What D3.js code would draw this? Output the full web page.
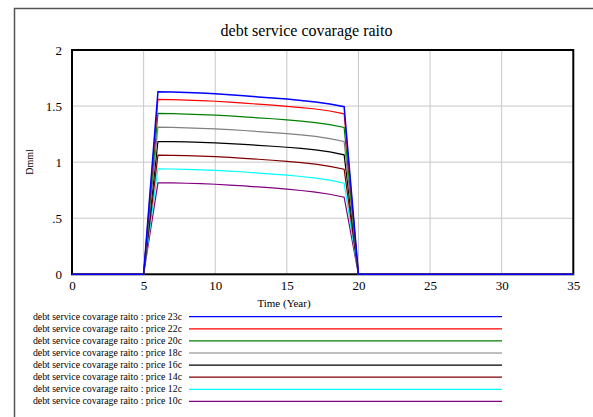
<!DOCTYPE html>
<html>
<head>
<meta charset="utf-8">
<script src="https://cdn.jsdelivr.net/npm/d3@7"></script>
<style>
  body { margin: 0; background: #fff; }
</style>
</head>
<body>
<div id="chart"></div>
<script>
const years = d3.range(0, 36)
const seriesNames = ['price 23c', 'price 22c', 'price 20c', 'price 18c', 'price 16c', 'price 14c', 'price 12c', 'price 10c']
const seriesColors = ['#0000ff', '#ff0000', '#008000', '#808080', '#000000', '#800000', '#00ffff', '#800080']
const xTicks = [0, 5, 10, 15, 20, 25, 30, 35]
const yTicks = [0, 0.5, 1, 1.5, 2]
const yTickLabels = ['0', '.5', '1', '1.5', '2']

// values for years 6..19, zero before and after
const p23 = [1.628, 1.625, 1.621, 1.616, 1.610, 1.602, 1.592, 1.582, 1.573, 1.562, 1.550, 1.536, 1.518, 1.494]
const p22 = [1.559, 1.557, 1.553, 1.548, 1.543, 1.535, 1.526, 1.517, 1.508, 1.498, 1.487, 1.474, 1.456, 1.431]
const p20 = [1.434, 1.432, 1.428, 1.424, 1.419, 1.412, 1.404, 1.395, 1.387, 1.377, 1.366, 1.353, 1.335, 1.309]
const p18 = [1.312, 1.310, 1.306, 1.302, 1.297, 1.290, 1.282, 1.273, 1.264, 1.254, 1.243, 1.229, 1.210, 1.184]
const p16 = [1.184, 1.183, 1.180, 1.176, 1.172, 1.166, 1.158, 1.150, 1.142, 1.133, 1.122, 1.109, 1.091, 1.065]
const p14 = [1.062, 1.061, 1.058, 1.054, 1.049, 1.042, 1.034, 1.026, 1.017, 1.007, 0.996, 0.982, 0.963, 0.937]
const p12 = [0.940, 0.939, 0.936, 0.932, 0.927, 0.920, 0.912, 0.903, 0.894, 0.884, 0.872, 0.858, 0.839, 0.812]
const p10 = [0.815, 0.815, 0.812, 0.808, 0.803, 0.796, 0.788, 0.779, 0.770, 0.759, 0.747, 0.733, 0.714, 0.687]
const activeValues = [p23, p22, p20, p18, p16, p14, p12, p10]

const serif = '"Liberation Serif", "Times New Roman", Times, serif'
const width = 593, height = 417

const svg = d3.select('#chart')
  .append('svg')
  .attr('width', width)
  .attr('height', height)
  .attr('font-family', serif)

// outer frame
svg.append('rect')
  .attr('x', 14.5).attr('y', 8.5)
  .attr('width', 600).attr('height', 420)
  .attr('fill', 'none')
  .attr('stroke', '#555')
  .attr('stroke-width', 1.5)

const x = d3.scaleLinear().domain([0, 35]).range([72, 573.3])
const y = d3.scaleLinear().domain([0, 2]).range([274.3, 50])

svg.append('text')
  .attr('x', 306.5)
  .attr('y', 36)
  .attr('text-anchor', 'middle')
  .attr('font-family', serif)
  .style('font-size', '16px')
  .text('debt service covarage raito')

// grid
const grid = svg.append('g')
grid.selectAll('.gx')
  .data(xTicks)
  .enter()
  .append('line')
  .attr('x1', d => x(d)).attr('x2', d => x(d))
  .attr('y1', y(2)).attr('y2', y(0))
  .attr('stroke', '#c8c8c8')
grid.selectAll('.gy')
  .data(yTicks)
  .enter()
  .append('line')
  .attr('x1', x(0)).attr('x2', x(35))
  .attr('y1', d => y(d)).attr('y2', d => y(d))
  .attr('stroke', '#c8c8c8')

// axes
const xAxis = d3.axisBottom(x).tickValues(xTicks).tickSize(0).tickPadding(6)
svg.append('g')
  .attr('transform', `translate(0,${y(0)})`)
  .call(xAxis)
  .attr('font-family', serif)
  .attr('font-size', 13)
  .call(g => g.select('.domain').remove())

const yAxis = d3.axisLeft(y).tickValues(yTicks).tickFormat((d, i) => yTickLabels[i]).tickSize(0).tickPadding(10)
svg.append('g')
  .attr('transform', `translate(${x(0)},0)`)
  .call(yAxis)
  .attr('font-family', serif)
  .attr('font-size', 13)
  .call(g => g.select('.domain').remove())

svg.append('text')
  .attr('transform', 'translate(33,162) rotate(-90)')
  .attr('text-anchor', 'middle')
  .attr('font-family', serif)
  .style('font-size', '10px')
  .text('Dmml')

svg.append('text')
  .attr('x', 284)
  .attr('y', 307)
  .attr('text-anchor', 'middle')
  .attr('font-family', serif)
  .style('font-size', '11px')
  .text('Time (Year)')

// lines
const seriesData = activeValues.map(vals => years.map(t => ({
  t: t,
  v: (t >= 6 && t <= 19) ? vals[t - 6] : 0
})))

const line = d3.line()
  .x(d => x(d.t))
  .y(d => y(d.v))

// plot frame
svg.append('rect')
  .attr('x', x(0)).attr('y', y(2))
  .attr('width', x(35) - x(0)).attr('height', y(0) - y(2))
  .attr('fill', 'none')
  .attr('stroke', '#000')
  .attr('stroke-width', 2)

const lineG = svg.append('g')
for (let i = seriesData.length - 1; i >= 0; i--) {
  lineG.append('path')
    .datum(seriesData[i])
    .attr('d', line)
    .attr('fill', 'none')
    .attr('stroke', seriesColors[i])
    .attr('stroke-width', i === 0 ? 1.5 : 1.2)
}

// legend
const legend = svg.append('g')
const rows = legend.selectAll('g')
  .data(seriesNames)
  .enter()
  .append('g')
  .attr('transform', (d, i) => `translate(0,${316.7 + i * 12.1})`)
rows.append('text')
  .attr('x', 182)
  .attr('y', 3)
  .attr('text-anchor', 'end')
  .attr('font-family', serif)
  .style('font-size', '9.8px')
  .text(d => 'debt service covarage raito : ' + d)
rows.append('line')
  .attr('x1', 189).attr('x2', 502)
  .attr('y1', 0).attr('y2', 0)
  .attr('stroke', (d, i) => seriesColors[i])
  .attr('stroke-width', 1.2)
</script>
</body>
</html>
